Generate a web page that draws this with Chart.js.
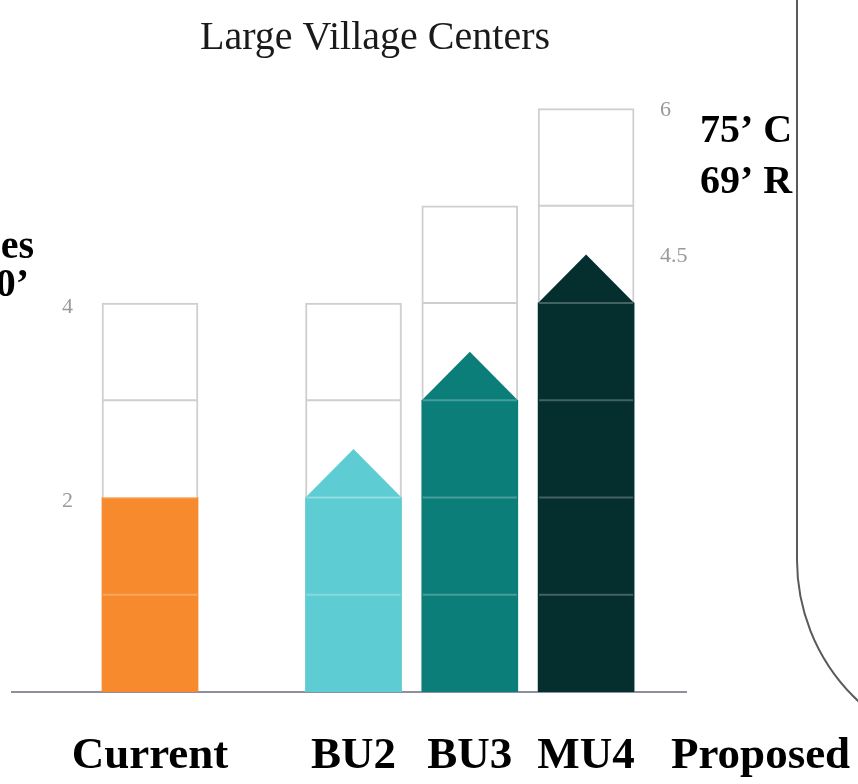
<!DOCTYPE html>
<html>
<head>
<meta charset="utf-8">
<script src="https://cdn.jsdelivr.net/npm/chart.js@4.4.1/dist/chart.umd.min.js"></script>
<style>
  html, body { margin: 0; padding: 0; background: #fff; }
</style>
</head>
<body>
<canvas id="storiesChart" width="858" height="784"></canvas>
<script>
// stories per district: built today, arrow (extra half story), allowed envelope
const categories = ['Current', 'BU2', 'BU3', 'MU4'];
const builtStories = [2, 2, 3, 4];
const arrowStories = [null, 2.5, 3.5, 4.5];
const maxStories = [4, 4, 5, 6];
const barColors = ['#f68a2d', '#5ecdd3', '#0b7e79', '#052e2e'];
const leftTicks = [2, 4];
const rightTicks = [4.5, 6];
const groupLabel = 'Proposed';
const heightNotes = ['75’ C', '69’ R'];
const leftNotes = ['es', '0’'];
const chartTitle = 'Large Village Centers';

// layout only: slot of each bar along x (gap after "Current")
const slotX = [0, 1.75, 2.75, 3.75];
const proposedX = 5.25;

const serif = '"Liberation Serif", "Times New Roman", serif';

const storyDecor = {
  id: 'storyDecor',
  afterDatasetsDraw(chart) {
    const { ctx, scales: { y } } = chart;
    const meta = chart.getDatasetMeta(1);
    ctx.save();
    meta.data.forEach((bar, i) => {
      const left = bar.x - bar.width / 2;
      const right = bar.x + bar.width / 2;
      // arrow on top of built stories
      if (arrowStories[i] != null) {
        const base = y.getPixelForValue(builtStories[i]);
        ctx.beginPath();
        ctx.moveTo(left, base);
        ctx.lineTo(bar.x, y.getPixelForValue(arrowStories[i]));
        ctx.lineTo(right, base);
        ctx.closePath();
        ctx.fillStyle = barColors[i];
        ctx.fill();
      }
      // story dividers
      for (let s = 1; s < maxStories[i]; s++) {
        const py = y.getPixelForValue(s);
        ctx.beginPath();
        ctx.moveTo(left + 1, py);
        ctx.lineTo(right - 1, py);
        ctx.lineWidth = 2;
        ctx.strokeStyle = s <= builtStories[i] ? 'rgba(255,255,255,0.25)' : '#cfcfcf';
        ctx.stroke();
      }
    });
    ctx.restore();
  },
  afterDraw(chart) {
    const { ctx, scales: { y } } = chart;
    ctx.save();
    // title
    ctx.fillStyle = '#1a1a1a';
    ctx.font = '40px ' + serif;
    ctx.textAlign = 'center';
    ctx.textBaseline = 'alphabetic';
    ctx.fillText(chartTitle, 375, 49);

    // small story numbers
    ctx.fillStyle = '#9a9a9a';
    ctx.font = '22px ' + serif;
    ctx.textAlign = 'left';
    ctx.textBaseline = 'middle';
    leftTicks.forEach(v => ctx.fillText(String(v), 62, y.getPixelForValue(v) + 4));
    rightTicks.forEach(v => ctx.fillText(String(v), 660, y.getPixelForValue(v) + 2));

    // height notes
    ctx.fillStyle = '#000';
    ctx.font = 'bold 40px ' + serif;
    ctx.textBaseline = 'alphabetic';
    ctx.fillText(heightNotes[0], 700, 142);
    ctx.fillText(heightNotes[1], 700, 193);
    ctx.textAlign = 'right';
    ctx.fillText(leftNotes[0], 34, 258);
    ctx.fillText(leftNotes[1], 29, 296);

    // rounded panel edge on the right
    ctx.beginPath();
    ctx.moveTo(797, 0);
    ctx.lineTo(797, 560);
    ctx.arc(990, 560, 193, Math.PI, Math.PI / 2, true);
    ctx.lineWidth = 2;
    ctx.strokeStyle = '#5a5a5a';
    ctx.stroke();
    ctx.restore();
  }
};

const tickNames = [...categories, groupLabel];

new Chart(document.getElementById('storiesChart').getContext('2d'), {
  type: 'bar',
  data: {
    datasets: [
      {
        label: 'Built',
        data: slotX.map((x, i) => ({ x, y: builtStories[i] })),
        backgroundColor: barColors,
        borderWidth: 0,
        grouped: false,
        order: 1
      },
      {
        label: 'Allowed',
        data: slotX.map((x, i) => ({ x, y: maxStories[i] })),
        backgroundColor: '#ffffff',
        borderColor: '#cfcfcf',
        borderWidth: 2,
        borderSkipped: 'start',
        grouped: false,
        order: 2
      }
    ]
  },
  options: {
    responsive: false,
    animation: false,
    barThickness: 96,
    layout: { padding: { left: 12, right: 172, top: 60, bottom: 5 } },
    scales: {
      x: {
        type: 'linear',
        offset: false,
        min: -1.1866,
        max: 4.609,
        // tick length only used as spacing, marks are hidden with the grid
        grid: { display: false, drawTicks: true, tickLength: 42 },
        border: { display: true, color: '#8c90a2', width: 2 },
        afterBuildTicks: axis => {
          axis.ticks = [...slotX, proposedX].map(v => ({ value: v }));
        },
        afterFit: axis => {
          axis.paddingLeft = 0;
          axis.paddingRight = 0;
        },
        ticks: {
          autoSkip: false,
          maxRotation: 0,
          padding: 0,
          color: '#000',
          font: { family: serif, weight: 'bold', size: 45, lineHeight: 1 },
          callback: (value, index) => tickNames[index]
        }
      },
      y: {
        display: false,
        min: 0,
        max: 6.5
      }
    },
    plugins: {
      legend: { display: false },
      tooltip: { enabled: false }
    }
  },
  plugins: [storyDecor]
});
</script>
</body>
</html>
